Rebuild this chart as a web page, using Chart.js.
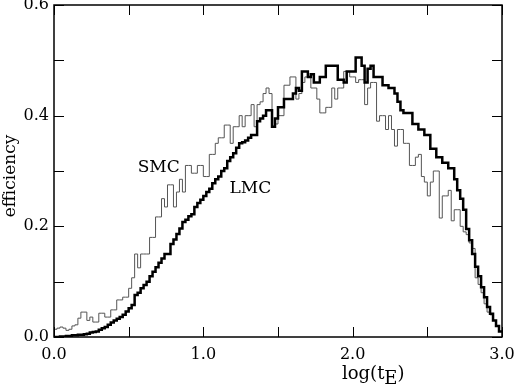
<!DOCTYPE html>
<html>
<head>
<meta charset="utf-8">
<script src="https://cdn.jsdelivr.net/npm/chart.js@4.4.1/dist/chart.umd.min.js"></script>
<style>
  html, body { margin: 0; padding: 0; background: #fff; }
  canvas { display: block; }
</style>
</head>
<body>
<canvas id="effChart" width="515" height="384"></canvas>
<script>
// histogram bins in log(tE): 150 bins of width 0.02 starting at 0.0
const binStart = 0.0;
const binWidth = 0.02;

const lmcEfficiency = [
  0.000, 0.000, 0.001, 0.001, 0.002, 0.002, 0.003, 0.003, 0.004, 0.004,
  0.005, 0.006, 0.008, 0.009, 0.010, 0.013, 0.016, 0.018, 0.022, 0.026,
  0.030, 0.033, 0.036, 0.040, 0.046, 0.052, 0.058, 0.076, 0.080, 0.088,
  0.094, 0.100, 0.110, 0.118, 0.126, 0.134, 0.142, 0.150, 0.150, 0.168,
  0.176, 0.186, 0.196, 0.208, 0.212, 0.218, 0.222, 0.235, 0.242, 0.248,
  0.255, 0.262, 0.268, 0.278, 0.285, 0.290, 0.300, 0.305, 0.318, 0.325,
  0.332, 0.342, 0.350, 0.352, 0.355, 0.360, 0.365, 0.365, 0.390, 0.395,
  0.400, 0.410, 0.410, 0.380, 0.395, 0.415, 0.415, 0.430, 0.430, 0.430,
  0.440, 0.450, 0.445, 0.480, 0.480, 0.470, 0.475, 0.460, 0.460, 0.470,
  0.470, 0.490, 0.490, 0.490, 0.490, 0.465, 0.465, 0.460, 0.480, 0.480,
  0.480, 0.505, 0.505, 0.490, 0.460, 0.485, 0.490, 0.470, 0.470, 0.470,
  0.455, 0.455, 0.450, 0.450, 0.440, 0.425, 0.410, 0.405, 0.405, 0.405,
  0.385, 0.385, 0.375, 0.375, 0.365, 0.365, 0.340, 0.340, 0.325, 0.325,
  0.315, 0.315, 0.305, 0.305, 0.285, 0.265, 0.250, 0.230, 0.195, 0.175,
  0.150, 0.127, 0.110, 0.090, 0.072, 0.054, 0.042, 0.030, 0.020, 0.010
];

const smcEfficiency = [
  0.014, 0.016, 0.018, 0.016, 0.012, 0.014, 0.020, 0.022, 0.034, 0.045,
  0.045, 0.030, 0.036, 0.027, 0.027, 0.043, 0.043, 0.036, 0.036, 0.049,
  0.049, 0.067, 0.067, 0.072, 0.072, 0.088, 0.107, 0.150, 0.125, 0.150,
  0.150, 0.150, 0.180, 0.180, 0.217, 0.217, 0.250, 0.235, 0.275, 0.275,
  0.235, 0.262, 0.285, 0.262, 0.310, 0.310, 0.296, 0.296, 0.310, 0.310,
  0.290, 0.290, 0.330, 0.330, 0.350, 0.360, 0.360, 0.383, 0.383, 0.350,
  0.380, 0.380, 0.400, 0.380, 0.400, 0.400, 0.420, 0.380, 0.420, 0.425,
  0.440, 0.450, 0.440, 0.380, 0.385, 0.400, 0.400, 0.455, 0.455, 0.470,
  0.470, 0.430, 0.440, 0.460, 0.470, 0.470, 0.450, 0.450, 0.430, 0.405,
  0.405, 0.415, 0.415, 0.450, 0.430, 0.450, 0.450, 0.480, 0.480, 0.470,
  0.470, 0.460, 0.465, 0.465, 0.420, 0.450, 0.460, 0.460, 0.390, 0.400,
  0.400, 0.375, 0.400, 0.375, 0.345, 0.375, 0.375, 0.350, 0.350, 0.310,
  0.310, 0.325, 0.330, 0.290, 0.280, 0.255, 0.280, 0.300, 0.300, 0.215,
  0.255, 0.255, 0.265, 0.210, 0.230, 0.230, 0.200, 0.190, 0.185, 0.170,
  0.160, 0.107, 0.095, 0.080, 0.060, 0.045, 0.040, 0.030, 0.020, 0.010
];

const xTickLabels = ['0.0', '1.0', '2.0', '3.0'];
const yTickLabels = ['0.0', '0.2', '0.4', '0.6'];

// step points at bin left edges, plus closing edge
function toSteps(values) {
    const pts = values.map((v, i) => ({ x: binStart + i * binWidth, y: v }));
    pts.push({ x: binStart + values.length * binWidth, y: values[values.length - 1] });
    return pts;
}

const serif = '"DejaVu Serif", "Liberation Serif", serif';

function noPad(scale) {
    scale.paddingLeft = 0;
    scale.paddingRight = 0;
    scale.paddingTop = 0;
    scale.paddingBottom = 0;
}

// frame, inward ticks, axis titles and curve labels
const framePlugin = {
    id: 'frame',
    afterDraw(chart) {
        const c = chart.ctx;
        const a = chart.chartArea;
        const xs = chart.scales.x;
        const ys = chart.scales.y;
        const tl = 10;
        c.save();
        c.strokeStyle = '#000';
        c.lineWidth = 1.5;
        c.strokeRect(a.left, a.top, a.right - a.left, a.bottom - a.top);
        c.lineWidth = 1;
        c.beginPath();
        xs.ticks.forEach(t => {
            const px = Math.round(xs.getPixelForValue(t.value)) + 0.5;
            c.moveTo(px, a.bottom); c.lineTo(px, a.bottom - tl);
            c.moveTo(px, a.top); c.lineTo(px, a.top + tl);
        });
        ys.ticks.forEach(t => {
            const py = Math.round(ys.getPixelForValue(t.value)) + 0.5;
            c.moveTo(a.left, py); c.lineTo(a.left + tl, py);
            c.moveTo(a.right, py); c.lineTo(a.right - tl, py);
        });
        c.stroke();

        c.fillStyle = '#000';
        c.textBaseline = 'alphabetic';
        c.textAlign = 'left';

        // x title: log(t_E)
        c.font = '18px ' + serif;
        let x = 342;
        c.fillText('log(t', x, 379);
        x += c.measureText('log(t').width;
        c.fillText('E', x, 384);
        x += c.measureText('E').width;
        c.fillText(')', x, 379);

        // y title
        c.save();
        c.translate(15, 176);
        c.rotate(-Math.PI / 2);
        c.textAlign = 'center';
        c.font = '17px ' + serif;
        c.fillText('efficiency', 0, 0);
        c.restore();

        // curve labels
        c.font = '17px ' + serif;
        c.fillText('SMC', xs.getPixelForValue(0.56), ys.getPixelForValue(0.298));
        c.fillText('LMC', xs.getPixelForValue(1.175), ys.getPixelForValue(0.26));
        c.restore();
    }
};

new Chart(document.getElementById('effChart'), {
    type: 'line',
    data: {
        datasets: [
            {
                label: 'LMC',
                data: toSteps(lmcEfficiency),
                stepped: 'before',
                borderColor: '#000',
                borderWidth: 2.5,
                pointRadius: 0,
                fill: false
            },
            {
                label: 'SMC',
                data: toSteps(smcEfficiency),
                stepped: 'before',
                borderColor: '#555',
                borderWidth: 1,
                pointRadius: 0,
                fill: false
            }
        ]
    },
    options: {
        responsive: false,
        animation: false,
        layout: { padding: { top: 5, right: 13, left: 0, bottom: 0 } },
        plugins: {
            legend: { display: false },
            tooltip: { enabled: false }
        },
        scales: {
            x: {
                type: 'linear',
                min: 0,
                max: 3,
                grid: { display: false, drawTicks: false },
                border: { display: false },
                afterFit: scale => { scale.height = 47; noPad(scale); },
                ticks: {
                    stepSize: 0.5,
                    padding: 8,
                    maxRotation: 0,
                    autoSkip: false,
                    color: '#000',
                    font: { family: serif, size: 16 },
                    callback: v => {
                        const i = Math.round(v);
                        return Math.abs(v - i) < 1e-6 ? xTickLabels[i] : '';
                    }
                }
            },
            y: {
                min: 0,
                max: 0.6,
                grid: { display: false, drawTicks: false },
                border: { display: false },
                afterFit: scale => { scale.width = 54; noPad(scale); },
                ticks: {
                    stepSize: 0.1,
                    padding: 5,
                    autoSkip: false,
                    color: '#000',
                    font: { family: serif, size: 16 },
                    callback: v => {
                        const k = Math.round(v * 10);
                        return k % 2 === 0 ? yTickLabels[k / 2] : '';
                    }
                }
            }
        }
    },
    plugins: [framePlugin]
});
</script>
</body>
</html>
